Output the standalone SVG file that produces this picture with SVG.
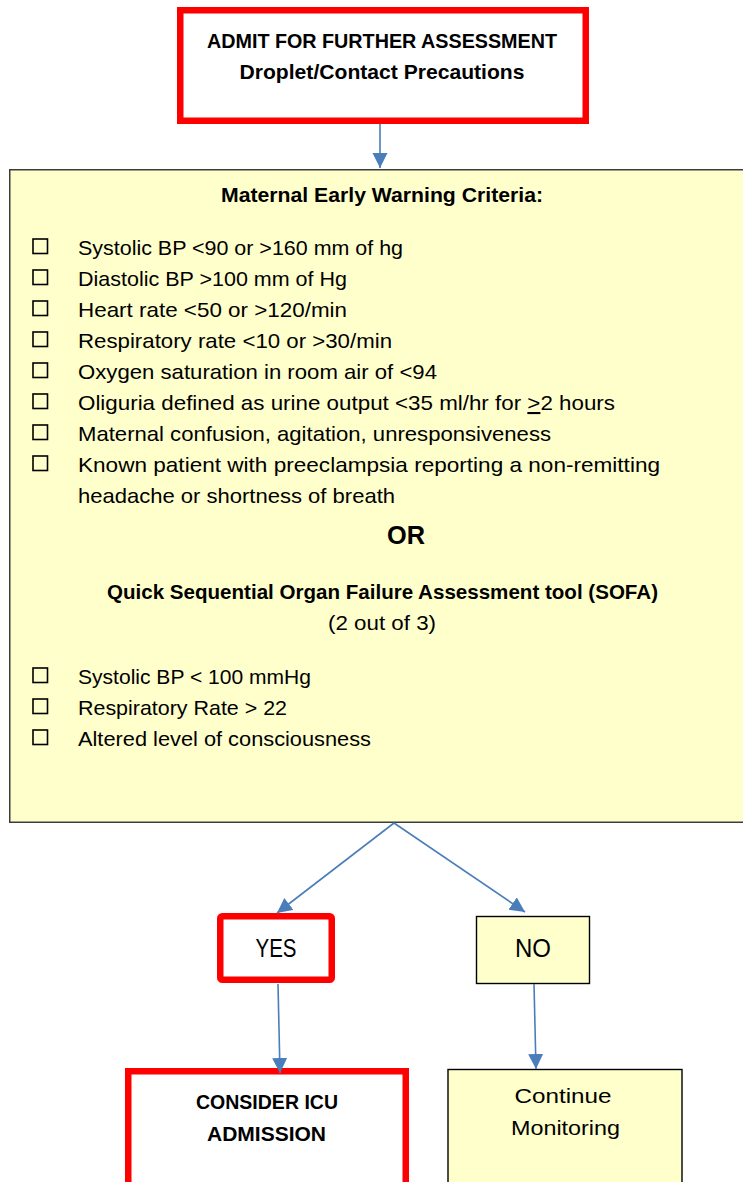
<svg xmlns="http://www.w3.org/2000/svg" width="743" height="1182" viewBox="0 0 743 1182">
<style>
text{font-family:"Liberation Sans",Arial,sans-serif;fill:#000}
.b{font-weight:bold}
.t{font-size:21px}
.c{text-anchor:middle}
.red{fill:#fff;stroke:#ff0000;stroke-width:6.5}
.yel{fill:#ffffcc;stroke:#3c3c3c;stroke-width:1.5}
.cb{fill:none;stroke:#000;stroke-width:1.6}
.con{stroke:#4a7ebb;stroke-width:1.6;fill:none;marker-end:url(#ah)}
</style>
<defs>
<marker id="ah" markerUnits="userSpaceOnUse" markerWidth="16" markerHeight="16" refX="15" refY="7.5" orient="auto">
<path d="M0,0 L15,7.5 L0,15 z" fill="#4a7ebb"/>
</marker>
</defs>
<rect width="743" height="1182" fill="#fff"/>
<g id="admit">
<rect class="red" x="180.25" y="10.25" width="405.5" height="110.5"/>
<text class="t b c" x="382" y="48" textLength="350" lengthAdjust="spacingAndGlyphs">ADMIT FOR FURTHER ASSESSMENT</text>
<text class="t b c" x="382" y="79" textLength="285" lengthAdjust="spacingAndGlyphs">Droplet/Contact Precautions</text>
</g>
<g id="criteria">
<rect class="yel" x="9.75" y="169.75" width="745" height="652.5"/>
<text class="t b c" x="382" y="202" textLength="322" lengthAdjust="spacingAndGlyphs">Maternal Early Warning Criteria:</text>
<rect class="cb" x="33" y="239" width="14.5" height="14.5"/>
<text class="t" x="78" y="255" textLength="325" lengthAdjust="spacingAndGlyphs">Systolic BP &lt;90 or &gt;160 mm of hg</text>
<rect class="cb" x="33" y="270" width="14.5" height="14.5"/>
<text class="t" x="78" y="286" textLength="269" lengthAdjust="spacingAndGlyphs">Diastolic BP &gt;100 mm of Hg</text>
<rect class="cb" x="33" y="301" width="14.5" height="14.5"/>
<text class="t" x="78" y="317" textLength="269" lengthAdjust="spacingAndGlyphs">Heart rate &lt;50 or &gt;120/min</text>
<rect class="cb" x="33" y="332" width="14.5" height="14.5"/>
<text class="t" x="78" y="348" textLength="314" lengthAdjust="spacingAndGlyphs">Respiratory rate &lt;10 or &gt;30/min</text>
<rect class="cb" x="33" y="363" width="14.5" height="14.5"/>
<text class="t" x="78" y="379" textLength="359" lengthAdjust="spacingAndGlyphs">Oxygen saturation in room air of &lt;94</text>
<rect class="cb" x="33" y="394" width="14.5" height="14.5"/>
<text class="t" x="78" y="410" textLength="537" lengthAdjust="spacingAndGlyphs">Oliguria defined as urine output &lt;35 ml/hr for <tspan text-decoration="underline">&gt;</tspan>2 hours</text>
<rect class="cb" x="33" y="425" width="14.5" height="14.5"/>
<text class="t" x="78" y="441" textLength="473" lengthAdjust="spacingAndGlyphs">Maternal confusion, agitation, unresponsiveness</text>
<rect class="cb" x="33" y="456" width="14.5" height="14.5"/>
<text class="t" x="78" y="472" textLength="582" lengthAdjust="spacingAndGlyphs">Known patient with preeclampsia reporting a non-remitting</text>
<text class="t" x="78" y="503" textLength="317" lengthAdjust="spacingAndGlyphs">headache or shortness of breath</text>
<text class="b c" x="406" y="544" font-size="25" textLength="38" lengthAdjust="spacingAndGlyphs">OR</text>
<text class="t b c" x="382.5" y="599" textLength="551" lengthAdjust="spacingAndGlyphs">Quick Sequential Organ Failure Assessment tool (SOFA)</text>
<text class="t c" x="382" y="630" textLength="108" lengthAdjust="spacingAndGlyphs">(2 out of 3)</text>
<rect class="cb" x="33" y="668" width="14.5" height="14.5"/>
<text class="t" x="78" y="684" textLength="233" lengthAdjust="spacingAndGlyphs">Systolic BP &lt; 100 mmHg</text>
<rect class="cb" x="33" y="699" width="14.5" height="14.5"/>
<text class="t" x="78" y="715" textLength="209" lengthAdjust="spacingAndGlyphs">Respiratory Rate &gt; 22</text>
<rect class="cb" x="33" y="730" width="14.5" height="14.5"/>
<text class="t" x="78" y="746" textLength="293" lengthAdjust="spacingAndGlyphs">Altered level of consciousness</text>
</g>
<g id="yes">
<rect class="red" x="220.25" y="916.25" width="111.5" height="63.5" rx="2"/>
<text class="c" x="276" y="957" font-size="25" textLength="41" lengthAdjust="spacingAndGlyphs">YES</text>
</g>
<g id="no">
<rect class="yel" x="476.5" y="916.5" width="113" height="67" style="stroke:#000;stroke-width:1.4"/>
<text class="c" x="533" y="957" font-size="25" textLength="36" lengthAdjust="spacingAndGlyphs">NO</text>
</g>
<g id="icu">
<rect class="red" x="128.25" y="1071.25" width="277.5" height="130"/>
<text class="t b c" x="267" y="1109" textLength="142" lengthAdjust="spacingAndGlyphs">CONSIDER ICU</text>
<text class="t b c" x="266.5" y="1141" textLength="119" lengthAdjust="spacingAndGlyphs">ADMISSION</text>
</g>
<g id="monitor">
<rect class="yel" x="448" y="1069.5" width="234" height="130" style="stroke:#000;stroke-width:1.4"/>
<text class="t c" x="563" y="1103" textLength="97" lengthAdjust="spacingAndGlyphs">Continue</text>
<text class="t c" x="565.5" y="1135" textLength="109" lengthAdjust="spacingAndGlyphs">Monitoring</text>
</g>
<g id="connectors">
<line class="con" x1="380" y1="124" x2="380" y2="168"/>
<line class="con" x1="394" y1="823" x2="277" y2="913"/>
<line class="con" x1="394" y1="823" x2="525" y2="912"/>
<line class="con" x1="278" y1="984" x2="280" y2="1073"/>
<line class="con" x1="534" y1="984" x2="536" y2="1069"/>
</g>
</svg>
